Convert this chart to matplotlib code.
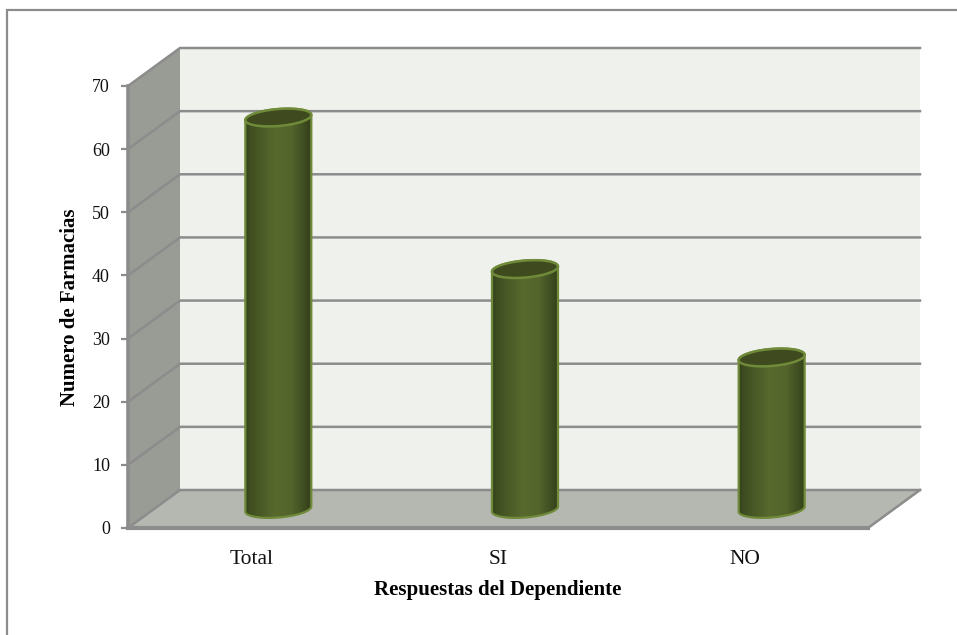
import numpy as np
import matplotlib
matplotlib.use("Agg")
import matplotlib.pyplot as plt
from matplotlib.lines import Line2D
from matplotlib.patches import Polygon

categorias = ['Total', 'SI', 'NO']
valores = [62, 38, 24]
ticks = [0, 10, 20, 30, 40, 50, 60, 70]

W, H = 957, 635
plt.rcParams['font.family'] = ['Liberation Serif', 'DejaVu Serif']

fig = plt.figure(figsize=(W / 100, H / 100), dpi=100, facecolor='white')
# frente del grafico: 128-868 px en x, 528-86 px en y
ax = fig.add_axes([128 / W, 1 - 528 / H, 740 / W, 442 / H])
ax.patch.set_visible(False)
for s in ax.spines.values():
    s.set_visible(False)

# profundidad 3d falsa, en unidades de datos
dx = 52 / 740 * 3
dy = 38 / 442 * 70
ymax = ticks[-1]
GRIS = '#8c8c8c'

# pared del fondo, pared lateral, piso
ax.add_patch(Polygon([(dx, dy), (3 + dx, dy), (3 + dx, ymax + dy), (dx, ymax + dy)],
                     fc='#eff2ec', ec='none', zorder=1, clip_on=False))
ax.add_patch(Polygon([(0, 0), (dx, dy), (dx, ymax + dy), (0, ymax)],
                     fc='#999b95', ec='none', zorder=1, clip_on=False))
ax.add_patch(Polygon([(0, 0), (3, 0), (3 + dx, dy), (dx, dy)],
                     fc='#b5b7b1', ec='none', zorder=1, clip_on=False))

for t in ticks:
    ax.plot([0, dx, 3 + dx], [t, t + dy, t + dy], color=GRIS, lw=1.8, zorder=2,
            clip_on=False, solid_joinstyle='miter')
ax.plot([3, 3 + dx], [0, dy], color=GRIS, lw=1.8, zorder=2, clip_on=False)
ax.plot([0, 0], [0, ymax], color=GRIS, lw=2.6, zorder=2, clip_on=False)
ax.plot([0, 3], [0, 0], color=GRIS, lw=3, zorder=2, clip_on=False)

# cilindros
ancho = 66 / 740 * 3 / 2
rad_y = 8.5 / 442 * 70
incl = 2.6 / 442 * 70
base = dy / 2
th = np.linspace(0, 2 * np.pi, 120)
grad = np.interp(np.linspace(0, 1, 256), [0, 0.08, 0.45, 0.7, 0.93, 1],
                 [0, 0.35, 1, 0.9, 0.2, 0])
c1, c2 = np.array([0x33, 0x40, 0x1a]), np.array([0x58, 0x69, 0x2e])
img = (c1 + (c2 - c1) * grad[:, None])[None, :, :] / 255

for i, v in enumerate(valores):
    cx = i + 0.5 + dx / 2 + 0.004
    top = base + v
    ex = cx + ancho * np.cos(th)
    ey = top + rad_y * np.sin(th) + incl * np.cos(th)
    bx = cx + ancho * np.cos(th)
    by = base + rad_y * np.sin(th) + incl * np.cos(th)
    # cuerpo = mitad inferior de la elipse de abajo + mitad superior de la de arriba
    low = th > np.pi
    up = th <= np.pi
    cuerpo = np.r_[np.c_[bx[low], by[low]], np.c_[ex[up], ey[up]]]
    ax.add_patch(Polygon(cuerpo, closed=True, fc='none', ec='#6f8a38', lw=1.6, zorder=4,
                         clip_on=False))
    im = ax.imshow(img, extent=[cx - ancho, cx + ancho, base - rad_y - incl, top + rad_y + incl],
                   aspect='auto', zorder=3, interpolation='bilinear')
    im.set_clip_path(Polygon(cuerpo, closed=True, transform=ax.transData))
    ax.add_patch(Polygon(np.c_[ex, ey], closed=True, fc='#3f4b1e', ec='#6f8a38', lw=1.8, zorder=5,
                         clip_on=False))

ax.set_xlim(0, 3)
ax.set_ylim(0, ymax)
ax.set_xticks([i + 0.5 for i in range(3)])
ax.set_xticklabels(categorias, fontsize=15.5, color='#111111')
ax.set_yticks(ticks)
ax.set_yticklabels([str(t) for t in ticks], fontsize=13, color='#111111')
ax.tick_params(axis='x', length=0, pad=16)
ax.tick_params(axis='y', length=5, width=1.6, color=GRIS, pad=8)

fig.text(498 / W, 1 - 590 / H, 'Respuestas del Dependiente', fontsize=15,
         fontweight='bold', ha='center', va='center', color='black')
fig.text(70 / W, 1 - 307 / H, 'Numero de Farmacias', fontsize=15, fontweight='bold',
         rotation=90, ha='center', va='center', color='black')

# marco: solo arriba e izquierda
fig.add_artist(Line2D([6.5 / W, 6.5 / W, 1], [0, 1 - 9.5 / H, 1 - 9.5 / H], transform=fig.transFigure,
                      color='#8c8c8c', lw=1.6, solid_joinstyle='miter'))

fig.savefig('out.png', dpi=100)
